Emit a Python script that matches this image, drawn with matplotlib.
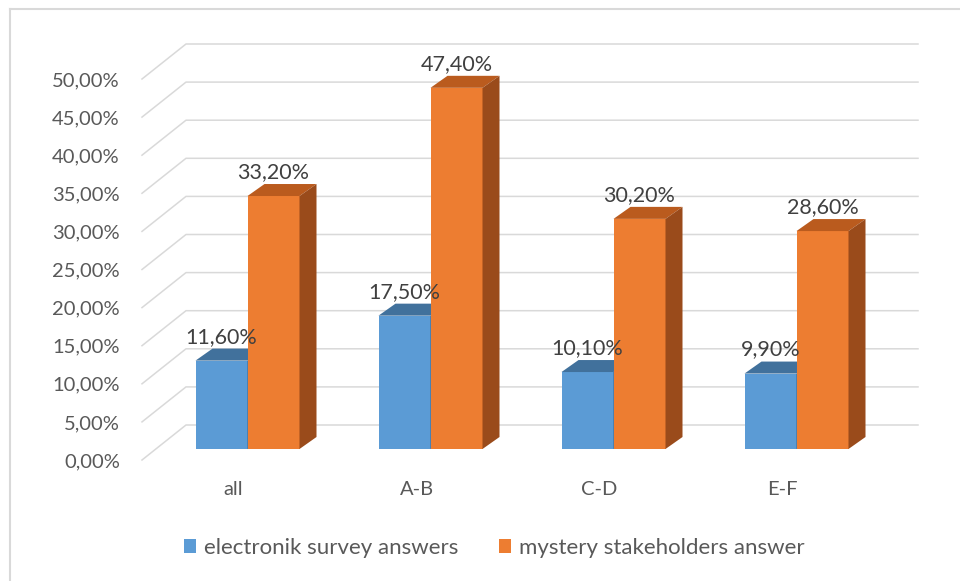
import matplotlib
matplotlib.use("Agg")
import matplotlib.pyplot as plt
from matplotlib.patches import Patch, Polygon
from matplotlib.lines import Line2D

# Share of answers per group, in percent
categories = ["all", "A-B", "C-D", "E-F"]
electronic = [11.6, 17.5, 10.1, 9.9]
mystery = [33.2, 47.4, 30.2, 28.6]
series_names = ["electronik survey answers", "mystery stakeholders answer"]
y_ticks = [0, 5, 10, 15, 20, 25, 30, 35, 40, 45, 50]

blue_front, blue_top, blue_side = "#5B9BD5", "#41719C", "#3A6790"
orange_front, orange_top, orange_side = "#ED7D31", "#BA5B1E", "#9A4B1B"
grid_color = "#D9D9D9"

plt.rcParams["font.family"] = ["Lato", "DejaVu Sans"]

fig = plt.figure(figsize=(9.6, 5.81), dpi=100)
ax = fig.add_axes([142 / 960, 121 / 581, 732 / 960, 381 / 581])
ax.set_xlim(-0.5, 3.5)
ax.set_ylim(0, 50)

# pixel sizes of the fake 3D look, turned into data units
px_x = 4.0 / 732
px_y = 50.0 / 381
wall_dx, wall_dy = 44 * px_x, 35 * px_y      # depth of the floor
front_dx, front_dy = 14 * px_x, 11 * px_y    # bars stand a bit behind the front edge
bar_dx, bar_dy = 17 * px_x, 12 * px_y        # thickness of each bar
bar_w = 52 * px_x


def fmt(v):
    return f"{v:.2f}".replace(".", ",") + "%"


# gridlines: a slanted piece on the side wall, then straight along the back wall
for v in y_ticks:
    ax.add_line(Line2D([-0.5, -0.5 + wall_dx, 3.5 + wall_dx],
                       [v, v + wall_dy, v + wall_dy],
                       color=grid_color, lw=1.1, clip_on=False, zorder=1))


def draw_bars(xs, values, front, top, side):
    ax.bar(xs, values, width=bar_w, bottom=front_dy, align="edge",
           color=front, linewidth=0, zorder=3)
    for x0, v in zip(xs, values):
        x1 = x0 + bar_w
        y0 = front_dy
        y1 = v + front_dy
        ax.add_patch(Polygon([(x0, y1), (x1, y1), (x1 + bar_dx, y1 + bar_dy),
                              (x0 + bar_dx, y1 + bar_dy)],
                             facecolor=top, linewidth=0, zorder=3, clip_on=False))
        ax.add_patch(Polygon([(x1, y0), (x1 + bar_dx, y0 + bar_dy),
                              (x1 + bar_dx, y1 + bar_dy), (x1, y1)],
                             facecolor=side, linewidth=0, zorder=3, clip_on=False))
        ax.annotate(fmt(v), (x0 + bar_w / 2, y1 + bar_dy), xytext=(0, 6),
                    textcoords="offset pixels", ha="center", va="baseline",
                    fontsize=15.5, color="#404040", zorder=5,
                    annotation_clip=False)


idx = range(len(categories))
draw_bars([i + front_dx - bar_w for i in idx], electronic,
          blue_front, blue_top, blue_side)
draw_bars([i + front_dx for i in idx], mystery,
          orange_front, orange_top, orange_side)

ax.set_yticks(y_ticks)
ax.set_yticklabels([fmt(v) for v in y_ticks])
ax.set_xticks(list(idx))
ax.set_xticklabels(categories)
ax.tick_params(axis="y", length=0, pad=16, labelsize=14.5, labelcolor="#595959")
ax.tick_params(axis="x", length=0, pad=15, labelsize=14.5, labelcolor="#595959")
for s in ax.spines.values():
    s.set_visible(False)

handles = [Patch(facecolor=blue_front), Patch(facecolor=orange_front)]
fig.legend(handles, series_names, loc="center", bbox_to_anchor=(0.515, 0.057),
           ncol=2, frameon=False, fontsize=16, labelcolor="#595959",
           handlelength=0.55, handleheight=0.55, handletextpad=0.36,
           columnspacing=1.8)

# chart border, cut off on the right and bottom
fig.add_artist(Line2D([10 / 960, 10 / 960], [0, 1 - 9 / 581],
                      transform=fig.transFigure, color=grid_color, lw=1.5))
fig.add_artist(Line2D([10 / 960, 1], [1 - 9 / 581, 1 - 9 / 581],
                      transform=fig.transFigure, color=grid_color, lw=1.5))

fig.savefig("out.png", dpi=100)
